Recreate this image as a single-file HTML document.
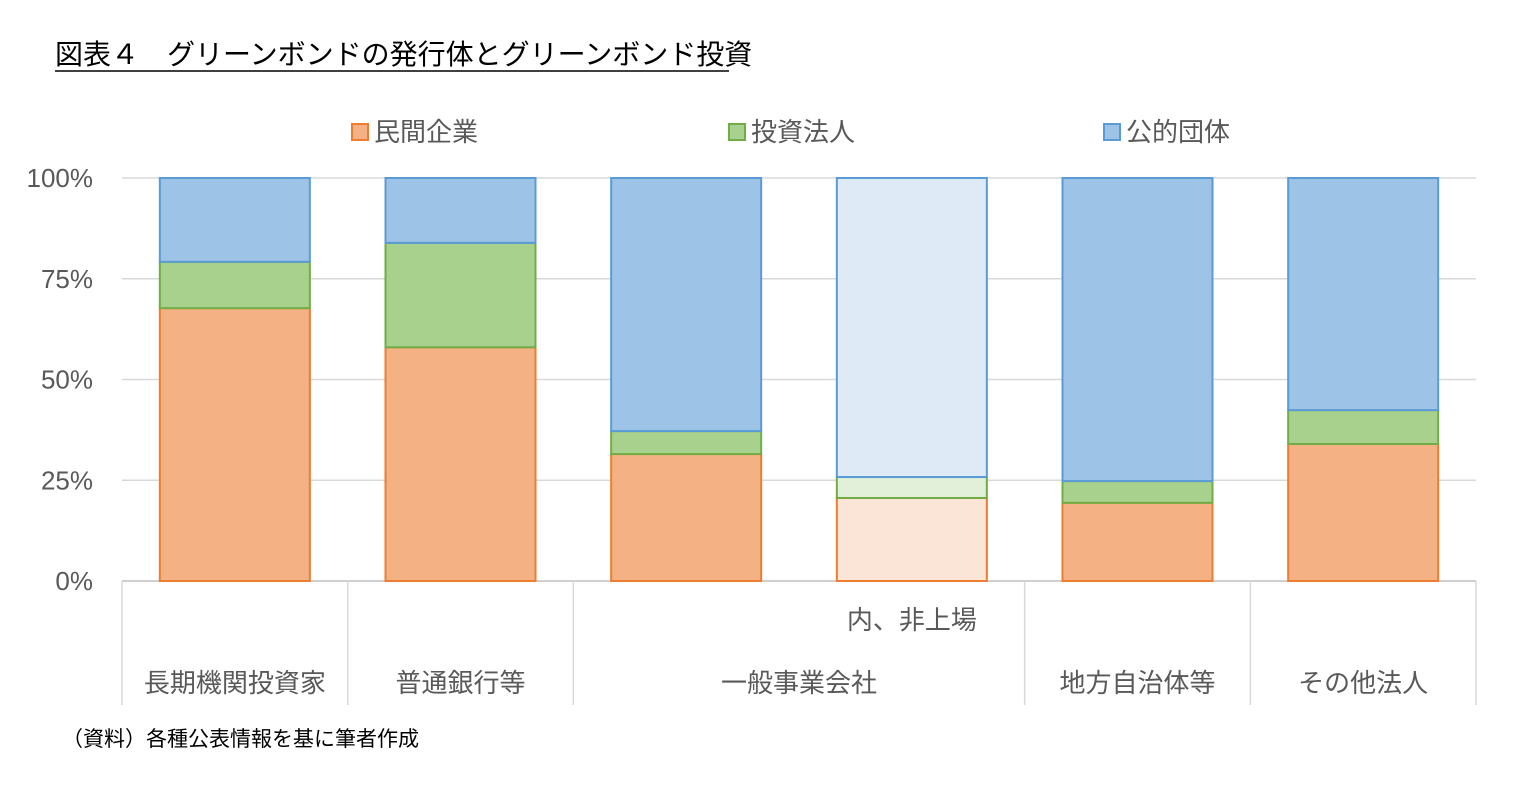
<!DOCTYPE html>
<html><head><meta charset="utf-8">
<style>
body{margin:0;background:#fff;width:1521px;height:792px;overflow:hidden;font-family:"Liberation Sans","Noto Sans CJK JP",sans-serif;}
</style></head>
<body>
<svg id="chart" width="1521" height="792" xmlns="http://www.w3.org/2000/svg" font-family="Liberation Sans, Noto Sans CJK JP, sans-serif">
<text x="55" y="64" font-size="28" fill="#000">図表４　グリーンボンドの発行体とグリーンボンド投資</text>
<line x1="55" y1="71" x2="729" y2="71" stroke="#000" stroke-width="1.5"/>
<g id="grid"></g>
<g id="bars"></g>
<g id="axis"></g>
<g id="legend"></g>
<text x="62" y="746" font-size="21" fill="#000">（資料）各種公表情報を基に筆者作成</text>
</svg>
<script>
const categories=["長期機関投資家","普通銀行等","一般事業会社","内、非上場","地方自治体等","その他法人"];
const privateCorp=[67.7,58,31.5,20.6,19.4,34];
const investCorp=[11.5,25.9,5.7,5.2,5.4,8.4];
const publicBody=[20.8,16.1,62.8,74.2,75.2,57.6];
const seriesNames=["民間企業","投資法人","公的団体"];
const yTicks=[0,25,50,75,100];
const ns="http://www.w3.org/2000/svg";
const X0=122,X1=1476,Y0=581,Y1=178;
const bw=(X1-X0)/categories.length;
const y=v=>Y0-(v/100)*(Y0-Y1);
const xc=i=>X0+bw*(i+0.5);
function mk(t,a,p){const e=document.createElementNS(ns,t);for(const k in a)e.setAttribute(k,a[k]);p.appendChild(e);return e;}
const grid=document.getElementById('grid'),bars=document.getElementById('bars'),axis=document.getElementById('axis'),legend=document.getElementById('legend');
yTicks.forEach(t=>{
  const l=mk('line',{x1:X0,x2:X1,y1:y(t),y2:y(t),stroke:t===0?'#bfbfbf':'#d9d9d9','stroke-width':1.5},grid);
  
  
  const tx=mk('text',{x:93,y:y(t)+9,'text-anchor':'end','font-size':26,fill:'#595959'},axis);
  tx.textContent=t+'%';
  
  
});
const fills=[["#F4B183","#A9D18E","#9DC3E6"],["#FBE5D6","#E2F0D9","#DEEBF7"]];
const strokes=["#ED7D31","#70AD47","#5B9BD5"];
const series=[privateCorp,investCorp,publicBody];
categories.forEach((c,i)=>{
  let base=0;const light=i===3?1:0;
  series.forEach((s,k)=>{
    const v=s[i];
    const r=mk('rect',{x:xc(i)-75,width:150,y:y(base+v),height:y(base)-y(base+v),fill:fills[light][k],stroke:strokes[k],'stroke-width':2},bars);
    
    
    base+=v;
  });
});
// category axis separators
[0,1,2,4,5,6].forEach(j=>{
  const l=mk('line',{x1:X0+bw*j,x2:X0+bw*j,y1:Y0,y2:705,stroke:'#d9d9d9','stroke-width':1.5},axis);
  
  
});
const labels=[[categories[0],xc(0),692],[categories[1],xc(1),692],[categories[2],(xc(2)+xc(3))/2,692],[categories[3],xc(3),629],[categories[4],xc(4),692],[categories[5],xc(5),692]];
labels.forEach((L,i)=>{
  const t=mk('text',{x:L[1],y:L[2],'text-anchor':'middle','font-size':26,fill:'#595959'},axis);
  t.textContent=L[0];
  
  
});
const lx=[352,729,1104];
seriesNames.forEach((n,k)=>{
  const r=mk('rect',{x:lx[k],y:124,width:16,height:16,fill:fills[0][k],stroke:strokes[k],'stroke-width':2},legend);
  
  
  const t=mk('text',{x:lx[k]+22,y:141,'font-size':26,fill:'#595959'},legend);
  t.textContent=n;
  
  
});
</script>
</body></html>
